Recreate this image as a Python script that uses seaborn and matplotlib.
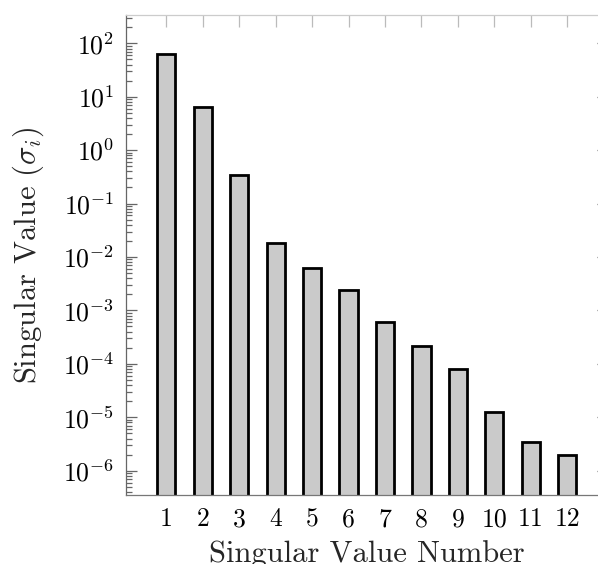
import matplotlib
matplotlib.use("Agg")
import matplotlib.pyplot as plt
import matplotlib.ticker as mticker
import numpy as np
import pandas as pd
import seaborn as sns

numbers = [1, 2, 3, 4, 5, 6, 7, 8, 9, 10, 11, 12]
sigma = [63, 6.4, 0.34, 0.0186, 0.0063, 0.0024, 6.1e-4, 2.2e-4, 8.1e-5, 1.28e-5, 3.45e-6, 2.0e-6]

sns.set_style("ticks")
plt.rcParams["font.family"] = "serif"
plt.rcParams["font.serif"] = ["cmr10"]
plt.rcParams["mathtext.fontset"] = "cm"
plt.rcParams["axes.formatter.use_mathtext"] = True
plt.rcParams["axes.unicode_minus"] = True

data = pd.DataFrame({"num": numbers, "sigma": sigma})

fig = plt.figure(figsize=(5.98, 5.64), dpi=100)
ax = fig.add_axes([0.2099, 0.1223, 0.8068, 0.8511])
sns.barplot(data=data, x="num", y="sigma", color="#cacaca", saturation=1,
            edgecolor="black", linewidth=2, width=0.5, ax=ax)
ax.set_yscale("log")
ax.set_ylim(3.5e-7, 339)
ax.set_xlim(-1.12, 12.12)

ax.yaxis.set_major_locator(mticker.LogLocator(base=10, numticks=20))
ax.yaxis.set_minor_locator(mticker.LogLocator(base=10, subs=np.arange(2, 10), numticks=20))
ax.yaxis.set_minor_formatter(mticker.NullFormatter())

ax.spines["left"].set_color("#666666")
ax.spines["bottom"].set_color("#777777")
ax.spines["top"].set_color("#cccccc")
ax.spines["right"].set_visible(False)
for s in ax.spines.values():
    s.set_linewidth(0.9)

ax.tick_params(axis="y", which="both", direction="in", left=True, right=True,
               colors="#666666", labelcolor="black", labelsize=18.5, pad=8, width=0.9)
ax.tick_params(axis="y", which="major", length=8)
ax.tick_params(axis="y", which="minor", length=4.3)
ax.tick_params(axis="x", which="major", direction="in", bottom=False, top=True,
               length=8.5, width=0.9, colors="#bbbbbb", labelcolor="black",
               labelsize=18.5, pad=9)

ax.set_xlabel("Singular Value Number", fontsize=22, labelpad=6)
ax.set_ylabel(r"Singular Value ($\sigma_i$)", fontsize=22, labelpad=12)

fig.savefig("out.png", dpi=100)
